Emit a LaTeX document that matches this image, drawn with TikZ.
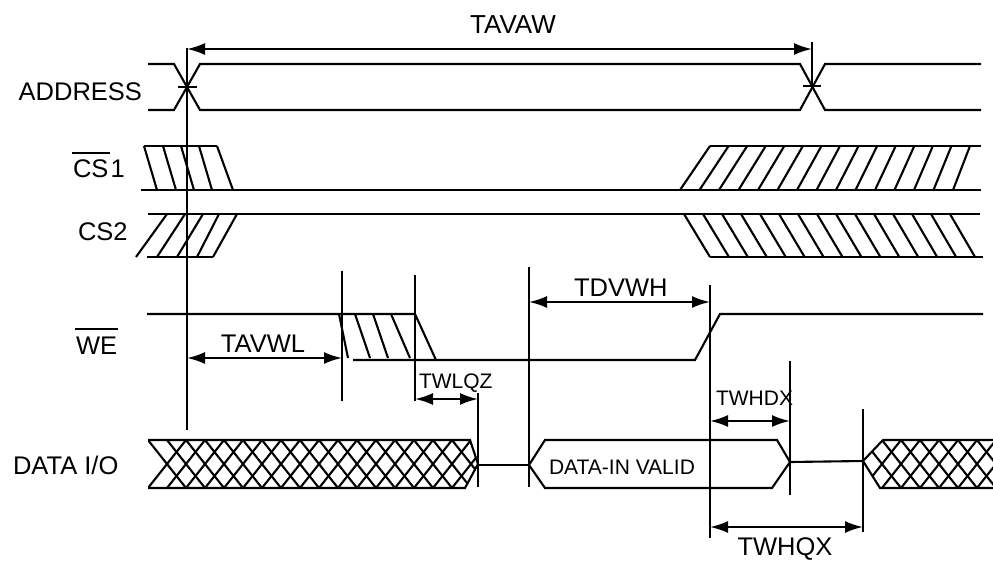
\documentclass[tikz,border=0pt]{standalone}
\usepackage{fontspec}
\setmainfont{Liberation Sans}
\usetikzlibrary{arrows.meta}
\begin{document}
\begin{tikzpicture}[x=1pt,y=-1pt,line width=2.1pt,line join=miter,
  dim/.style={line width=2.1pt,{Latex[length=18pt,width=12pt]}-{Latex[length=18pt,width=12pt]}},
  guide/.style={line width=2.1pt},
  bar/.style={line width=1.9pt},
  lbl/.style={font=\fontsize{25.5}{28}\selectfont,inner sep=0pt},
  slbl/.style={font=\fontsize{21}{24}\selectfont,inner sep=0pt}]
\useasboundingbox (0,0) rectangle (993,560);

% ---------- signal names ----------
\node[lbl,anchor=base east] (laddr) at (143,100) {ADDRESS};
\node[lbl,anchor=base west] (lcs1) at (72,177) {CS};
\node[lbl,anchor=base west] (lcs1n) at (lcs1.base east) {1};
\draw[bar] (lcs1.west |- 0,153) -- (lcs1.east |- 0,153);
\node[lbl,anchor=base west] (lcs2) at (77,240) {CS2};
\node[lbl,anchor=base west] (lwe) at (75,354) {WE};
\draw[bar] (lwe.west |- 0,329) -- (lwe.east |- 0,329);
\node[lbl,anchor=base west] (ldata) at (12,474) {DATA I/O};

% ---------- ADDRESS ----------
\draw (148,64) -- (174,64) -- (200,110) -- (800,110) -- (825,64) -- (981,64);
\draw (148,110) -- (174,110) -- (200,64) -- (800,64) -- (825,110) -- (981,110);
\draw (178,87) -- (197,87);
\draw (803,86) -- (821,86);

% ---------- CS1 ----------
\draw (144,146) -- (217,146);
\draw (141,190) -- (981,190);
\draw (710,146) -- (981,146);
\foreach \t/\b in {144/157,163/176,181/194,199/212,217/233}
  \draw (\t,146) -- (\b,190);
\foreach \i in {0,...,14}
  \draw ({680+\i*19.5},190) -- ({710+\i*18.57},146);

% ---------- CS2 ----------
\draw (148,214) -- (980,214);
\draw (147,257) -- (213,257);
\draw (710,257) -- (983,257);
\foreach \t/\b in {167/136,185/157,203/177,219/197,237/213}
  \draw (\b,257) -- (\t,214);
\foreach \i in {0,...,14}
  \draw ({684+\i*19},214) -- ({710+\i*18.93},257);

% ---------- WE ----------
\draw (147,314) -- (415,314) -- (436,360);
\draw (353,360) -- (695,360) -- (720,314) -- (983,314);
\foreach \t/\b in {339/348,355/370,373/388,391/410}
  \draw (\t,314) -- (\b,358);

% ---------- DATA I/O ----------
\begin{scope}
  \clip (148,440) -- (470,440) -- (478,464) -- (465,488) -- (148,488) -- cycle;
  \foreach \i in {0,...,19} {
    \draw ({148+\i*19},440) -- ({186+\i*19},488);
    \draw ({148+\i*19},488) -- ({186+\i*19},440);
  }
\end{scope}
\draw (148,440) -- (470,440) -- (478,464) -- (465,488) -- (148,488);
\draw (478,465) -- (529,465);
\draw (529,465) -- (545,440) -- (777,440) -- (790,462) -- (772,488) -- (545,488) -- cycle;
\node[slbl,anchor=base west] (lvalid) at (548,474) {DATA-IN VALID};
\draw (790,462) -- (863,461);
\begin{scope}
  \clip (863,461) -- (883,440) -- (993,440) -- (993,488) -- (880,488) -- cycle;
  \foreach \i in {0,...,8} {
    \draw ({863+\i*19},440) -- ({901+\i*19},488);
    \draw ({863+\i*19},488) -- ({901+\i*19},440);
  }
\end{scope}
\draw (993,440) -- (883,440) -- (863,461) -- (880,488) -- (993,488);

% ---------- guide lines ----------
\coordinate (g1t) at (187,48);   \coordinate (g1b) at (187,430);
\coordinate (g2t) at (812,42);   \coordinate (g2b) at (812,87);
\coordinate (g3t) at (342,271);  \coordinate (g3b) at (342,401);
\coordinate (g4t) at (415,275);  \coordinate (g4b) at (415,401);
\coordinate (g5t) at (478,393);  \coordinate (g5b) at (478,487);
\coordinate (g6t) at (529,267);  \coordinate (g6b) at (529,487);
\coordinate (g7t) at (710,285);  \coordinate (g7b) at (710,538);
\coordinate (g8t) at (790,361);  \coordinate (g8b) at (790,495);
\coordinate (g9t) at (863,409);  \coordinate (g9b) at (863,532);
\foreach \g in {1,...,9}
  \draw[guide] (g\g t) -- (g\g b);

% ---------- dimensions ----------
\coordinate (aL) at (187,49);  \coordinate (aR) at (812,49);
\draw[dim] (aL) -- (aR);
\node[lbl,font=\fontsize{26}{28}\selectfont,anchor=base] (tavaw) at (513,33) {TAVAW};

\coordinate (bL) at (187,358); \coordinate (bR) at (342,358);
\draw[dim] (bL) -- (bR);
\node[lbl,anchor=base] (tavwl) at (263,352) {TAVWL};

\coordinate (cL) at (529,302); \coordinate (cR) at (710,302);
\draw[dim] (cL) -- (cR);
\node[lbl,anchor=base west] (tdvwh) at (573,296) {TDVWH};

\coordinate (dL) at (415,399); \coordinate (dR) at (478,399);
\draw[dim] (dL) -- (dR);
\node[slbl,anchor=base west] (twlqz) at (418,388) {TWLQZ};

\coordinate (eL) at (710,421); \coordinate (eR) at (790,421);
\draw[dim] (eL) -- (eR);
\node[slbl,anchor=base west] (twhdx) at (715,405) {TWHDX};

\coordinate (fL) at (710,527); \coordinate (fR) at (863,527);
\draw[dim] (fL) -- (fR);
\node[lbl,anchor=base] (twhqx) at (785,555) {TWHQX};
\end{tikzpicture}
\end{document}
